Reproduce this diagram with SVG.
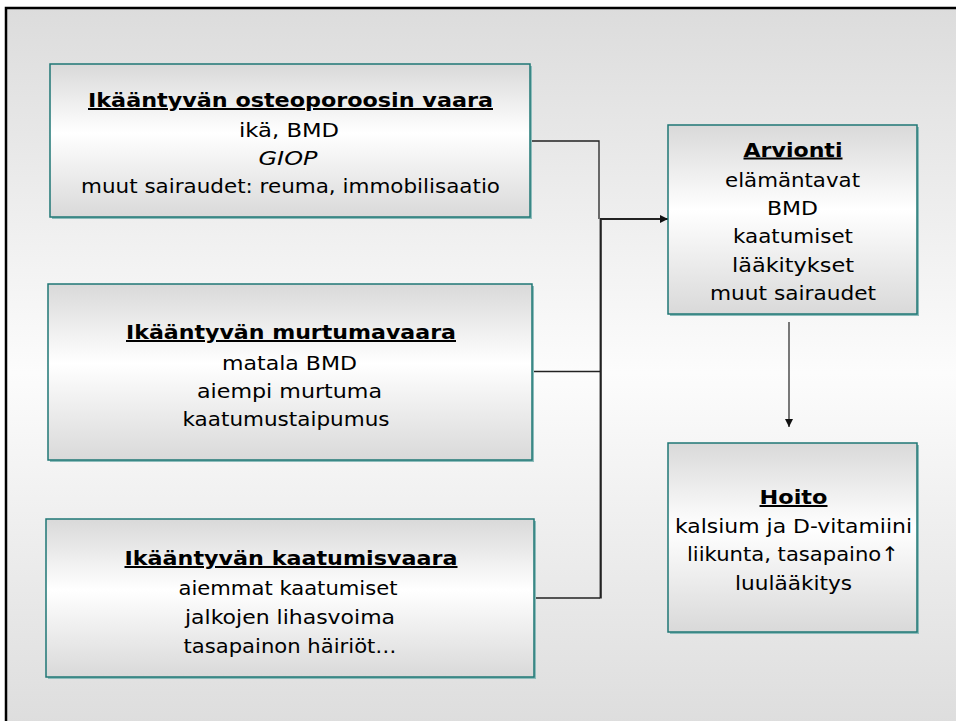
<svg xmlns="http://www.w3.org/2000/svg" width="956" height="721" viewBox="0 0 956 721">
<style>
  .box { stroke: #1f7775; stroke-width: 1.5; }
  .shadow { fill: #8dbcbb; }
  text { font-family: "Comic Sans MS", "DejaVu Sans", "Liberation Sans", sans-serif; font-size: 20px; fill: #000; text-anchor: middle; }
  .title { font-weight: bold; text-decoration: underline; }
  .conn { stroke: #222; fill: none; }
</style>
<defs>
  <linearGradient id="bg" x1="0" y1="0" x2="0" y2="1">
    <stop offset="0" stop-color="#dcdcdc"/>
    <stop offset="0.5" stop-color="#fcfcfc"/>
    <stop offset="1" stop-color="#dcdcdc"/>
  </linearGradient>
  <linearGradient id="boxg" x1="0" y1="0" x2="0" y2="1">
    <stop offset="0" stop-color="#d9d9d9"/>
    <stop offset="0.45" stop-color="#ffffff"/>
    <stop offset="1" stop-color="#d9d9d9"/>
  </linearGradient>
  <marker id="ah" markerUnits="userSpaceOnUse" markerWidth="10" markerHeight="10" refX="8" refY="4" orient="auto">
    <path d="M0,0 L8,4 L0,8 Z" fill="#111"/>
  </marker>
</defs>
<rect x="0" y="0" width="956" height="721" fill="#ffffff"/>
<rect x="6" y="8" width="960" height="730" fill="url(#bg)" stroke="#000" stroke-width="2.5"/>

<g id="connectors">
  <polyline class="conn" stroke-width="1.3" points="530,141 599,141 599,219"/>
  <line class="conn" stroke-width="2.2" x1="600.7" y1="219" x2="600.7" y2="598.5"/>
  <line class="conn" stroke-width="1.5" x1="532" y1="371.5" x2="600" y2="371.5"/>
  <line class="conn" stroke-width="1.5" x1="534" y1="598" x2="600" y2="598"/>
  <line class="conn" stroke-width="2.2" x1="600" y1="219" x2="668" y2="219" marker-end="url(#ah)"/>
  <line class="conn" stroke-width="1.2" x1="789" y1="322" x2="789" y2="427" marker-end="url(#ah)"/>
</g>

<g id="node-osteoporoosi">
  <rect class="shadow" x="52" y="66" width="480" height="153"/>
  <rect class="box" x="50" y="64" width="480" height="153" fill="url(#boxg)"/>
  <text class="title" x="290.5" y="107" textLength="405" lengthAdjust="spacingAndGlyphs">Ikääntyvän osteoporoosin vaara</text>
  <text x="289" y="136.5" textLength="100" lengthAdjust="spacingAndGlyphs">ikä, BMD</text>
  <text x="288" y="165" font-style="italic" textLength="59" lengthAdjust="spacingAndGlyphs">GIOP</text>
  <text x="290.5" y="192.5" textLength="419" lengthAdjust="spacingAndGlyphs">muut sairaudet: reuma, immobilisaatio</text>
</g>

<g id="node-murtumavaara">
  <rect class="shadow" x="50" y="286" width="484" height="176"/>
  <rect class="box" x="48" y="284" width="484" height="176" fill="url(#boxg)"/>
  <text class="title" x="291" y="339" textLength="330" lengthAdjust="spacingAndGlyphs">Ikääntyvän murtumavaara</text>
  <text x="289.5" y="369.5" textLength="135" lengthAdjust="spacingAndGlyphs">matala BMD</text>
  <text x="289.5" y="398" textLength="185" lengthAdjust="spacingAndGlyphs">aiempi murtuma</text>
  <text x="286" y="426" textLength="207" lengthAdjust="spacingAndGlyphs">kaatumustaipumus</text>
</g>

<g id="node-kaatumisvaara">
  <rect class="shadow" x="48" y="521" width="488" height="158"/>
  <rect class="box" x="46" y="519" width="488" height="158" fill="url(#boxg)"/>
  <text class="title" x="291" y="565" textLength="333" lengthAdjust="spacingAndGlyphs">Ikääntyvän kaatumisvaara</text>
  <text x="288" y="594.5" textLength="219" lengthAdjust="spacingAndGlyphs">aiemmat kaatumiset</text>
  <text x="290" y="623.5" textLength="210" lengthAdjust="spacingAndGlyphs">jalkojen lihasvoima</text>
  <text x="290" y="652.5" textLength="213" lengthAdjust="spacingAndGlyphs">tasapainon häiriöt…</text>
</g>

<g id="node-arvionti">
  <rect class="shadow" x="670" y="127" width="249" height="189"/>
  <rect class="box" x="668" y="125" width="249" height="189" fill="url(#boxg)"/>
  <text class="title" x="793" y="156.5" textLength="99" lengthAdjust="spacingAndGlyphs">Arvionti</text>
  <text x="792.5" y="186.5" textLength="135" lengthAdjust="spacingAndGlyphs">elämäntavat</text>
  <text x="792.5" y="214.5" textLength="51" lengthAdjust="spacingAndGlyphs">BMD</text>
  <text x="793" y="243" textLength="120" lengthAdjust="spacingAndGlyphs">kaatumiset</text>
  <text x="793" y="271.5" textLength="122" lengthAdjust="spacingAndGlyphs">lääkitykset</text>
  <text x="793" y="299.5" textLength="166" lengthAdjust="spacingAndGlyphs">muut sairaudet</text>
</g>

<g id="node-hoito">
  <rect class="shadow" x="670" y="445" width="249" height="189"/>
  <rect class="box" x="668" y="443" width="249" height="189" fill="url(#boxg)"/>
  <text class="title" x="793.5" y="504" textLength="68" lengthAdjust="spacingAndGlyphs">Hoito</text>
  <text x="793.5" y="533" textLength="237" lengthAdjust="spacingAndGlyphs">kalsium ja D-vitamiini</text>
  <text x="793" y="561" textLength="212" lengthAdjust="spacingAndGlyphs">liikunta, tasapaino↑</text>
  <text x="793.5" y="589.5" textLength="117" lengthAdjust="spacingAndGlyphs">luulääkitys</text>
</g>
</svg>
